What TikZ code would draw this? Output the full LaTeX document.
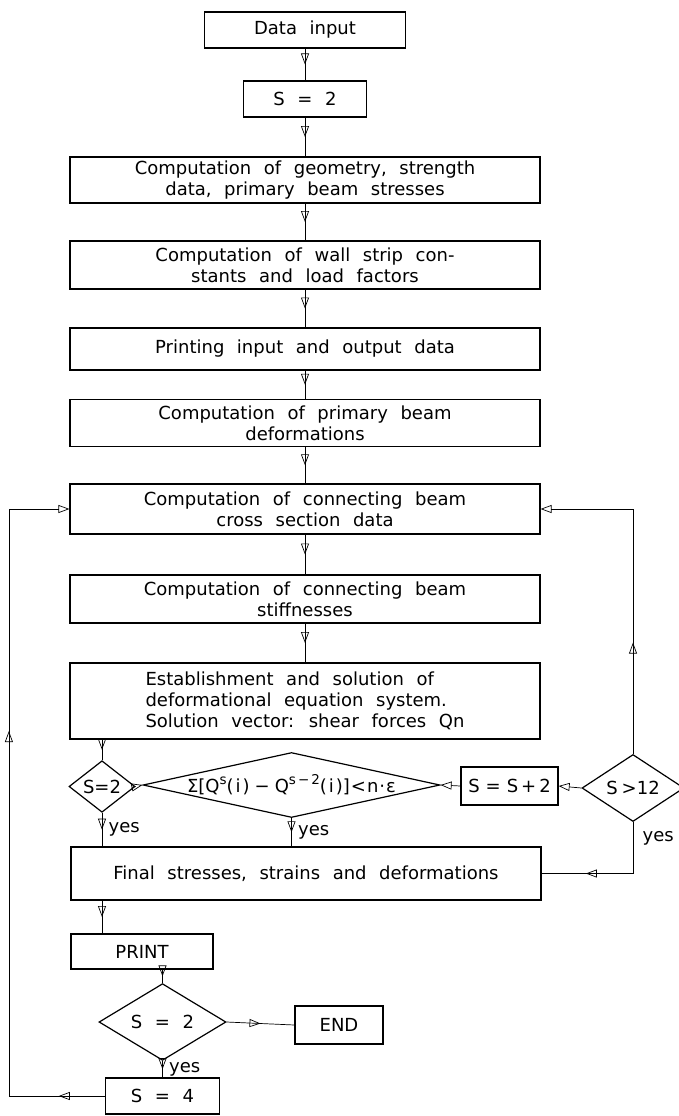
\documentclass[tikz,border=0pt]{standalone}
\usepackage{fontspec}
\newfontfamily\flowfont{DejaVu Sans}[WordSpace=2.2]
\usetikzlibrary{shapes.geometric,arrows.meta,decorations.markings,positioning,calc}
\newcommand\upper[1]{\raisebox{0.45em}{\fontsize{13.5}{14}\selectfont #1}}

\tikzset{
  hollow/.tip={Triangle[open,length=11pt,width=8pt]},
  box/.style={draw, line width=1.2pt, align=center, inner sep=2pt},
  bigbox/.style={box, minimum width=470pt},
  test/.style={draw, line width=1.2pt, shape=diamond, inner sep=0pt, align=center},
  midtip/.style={postaction={decorate},
    decoration={markings, mark=at position #1 with {\arrow{hollow}}}},
  midtip/.default=0.5,
  link/.style={line width=0.7pt}
}

\begin{document}
\begin{tikzpicture}[x=1pt, y=-1pt, font=\flowfont\fontsize{18}{21}\selectfont]
  \clip (0,0) rectangle (679,1116);
  % main column
  \node[box, minimum width=201pt, minimum height=36pt] (input) at (305,30) {Data input};
  \node[box, minimum width=123pt, minimum height=36pt] (sinit) at (305,99) {S = 2};
  \node[bigbox, minimum height=46pt] (geom) at (305,180) {Computation of geometry, strength\\data, primary beam stresses};
  \node[bigbox, minimum height=48pt] (wall) at (305,265) {Computation of wall strip con-\\stants and load factors};
  \node[bigbox, minimum height=42pt] (printio) at (305,349) {Printing input and output data};
  \node[bigbox, minimum height=47pt] (deform) at (305,423) {Computation of primary beam\\deformations};
  \node[bigbox, minimum height=50pt] (cross) at (305,509) {Computation of connecting beam\\cross section data};
  \node[bigbox, minimum height=48pt] (stiff) at (305,599) {Computation of connecting beam\\stiffnesses};
  \node[bigbox, minimum height=76pt, align=left] (solve) at (305,701) {Establishment and solution of\\deformational equation system.\\Solution vector: shear forces Qn};
  % row of tests
  \node[test, minimum width=66pt, minimum height=43pt] (first) at (102,786.5) {S=2};
  \node[test, minimum width=297pt, minimum height=65pt,
        label={center:{Σ[Q\upper{s}(\kern2pt i\kern2pt)\kern5pt−\kern5ptQ\upper{s\kern2pt−\kern2pt2}(\kern2pt i\kern2pt)]\kern1pt<\kern1ptn\kern1pt·\kern1ptε}}]
        (conv) at (291.5,785) {};
  \node[box, minimum width=97pt, minimum height=38pt, inner sep=0pt] (incr) at (509.5,786)
    {S\kern6pt=\kern6ptS\kern3pt+\kern3pt2};
  \node[test, minimum width=102pt, minimum height=52pt] (smax) at (633,788) {S\kern4pt>12};
  % output part
  \node[bigbox, minimum height=53pt] (final) at (306,873.5) {Final stresses, strains and deformations};
  \node[box, minimum width=142pt, minimum height=35pt] (print) at (142,951.5) {PRINT};
  \node[test, minimum width=127pt, minimum height=50pt] (again) at (162.5,1022) {S = 2};
  \node[box, minimum width=88pt, minimum height=38pt] (stop) at (339,1025) {END};
  \node[box, minimum width=114pt, minimum height=36pt] (sfour) at (162.5,1096) {S = 4};

  % straight down the column
  \foreach \a/\b in {input/sinit, sinit/geom, geom/wall, wall/printio, printio/deform, deform/cross, cross/stiff, stiff/solve}
    \draw[link, midtip] (\a) -- (\b);
  \draw[link, midtip] (solve.south -| first.north) -- (first.north);
  \draw[link, -hollow] (first.east) -- (conv.west);
  \draw[link, midtip] (first.south) -- (first.south |- final.north) node[pos=0.5, right=3pt] {yes};
  \draw[link, midtip] (conv.south) -- (conv.south |- final.north) node[pos=0.5, right=3pt] {yes};
  \draw[link, -hollow] (incr.west) -- (conv.east);
  \draw[link, -hollow] (smax.west) -- (incr.east);
  \draw[link, -hollow, midtip=0.33] (smax.north) |- (cross.east);
  \draw[link, midtip=0.69] (smax.south) |- (final.east) node[pos=0.16, right=6pt] {yes};
  \draw[link, midtip] (final.south -| first.south) -- (print.north -| first.south);
  \draw[link, midtip] (print.south -| again.north) -- (again.north);
  \draw[link, midtip] (again.east) -- (stop.west);
  \draw[link, midtip] (again.south) -- (sfour.north) node[pos=0.5, right=3pt] {yes};
  % back to the beam data
  \draw[link, -hollow, postaction={decorate},
    decoration={markings, mark=at position 0.062 with {\arrow{hollow}},
                mark=at position 0.62 with {\arrow{hollow}}}]
    (sfour.west) -- ++(-96,0) |- (cross.west);
\end{tikzpicture}
\end{document}
